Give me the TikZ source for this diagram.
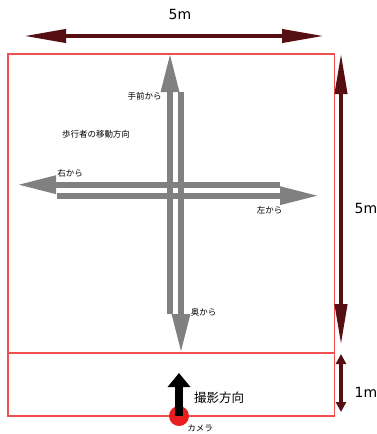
\documentclass[tikz,border=0pt]{standalone}
\usepackage{fontspec}
\setmainfont{DejaVu Sans}
\newfontfamily\jp{Noto Sans CJK JP}
\usetikzlibrary{arrows.meta}
\definecolor{dimred}{RGB}{85,14,18}
\definecolor{boxred}{RGB}{240,80,80}
\definecolor{walkgray}{RGB}{128,128,128}
\definecolor{camred}{RGB}{232,30,30}
\tikzset{
  lbl/.style={inner sep=0pt, font=\jp\fontsize{8.5}{10}\selectfont},
  dimlbl/.style={inner sep=0pt, font=\fontsize{14}{16}\selectfont},
  walk/.style={draw=walkgray, line width=6pt, -{Triangle[length=39pt,width=17pt]}},
  dimarrow/.style={draw=dimred, line width=4pt},
}
\begin{document}
\begin{tikzpicture}[x=1pt,y=-1pt]
\useasboundingbox (0,0) rectangle (377,434);
% area frame
\draw[boxred, line width=1.1pt] (8,54) rectangle (334.5,416);
\draw[boxred, line width=1.1pt] (8,353) -- (334.5,353);

% walking arrows
\coordinate (upS) at (170,314);
\coordinate (upE) at (170,53);
\coordinate (dnS) at (181,92);
\coordinate (dnE) at (181,353);
\coordinate (lfS) at (280,184.7);
\coordinate (lfE) at (17,184.7);
\coordinate (rtS) at (57,195.7);
\coordinate (rtE) at (319,195.7);
\draw[walk] (upS) -- (upE);
\draw[walk] (dnS) -- (dnE);
\draw[walk] (lfS) -- (lfE);
\draw[walk] (rtS) -- (rtE);

% dimension arrows
\coordinate (hA) at (24,36);
\coordinate (hB) at (324,36);
\draw[dimarrow, {Triangle[length=42pt,width=13pt]}-{Triangle[length=42pt,width=13pt]}] (hA) -- (hB);
\coordinate (vA) at (341,53);
\coordinate (vB) at (341,345);
\draw[dimarrow, {Triangle[length=41pt,width=12pt]}-{Triangle[length=41pt,width=12pt]}] (vA) -- (vB);
\coordinate (wA) at (341,354);
\coordinate (wB) at (341,412);
\draw[dimarrow, {Triangle[length=10pt,width=10pt]}-{Triangle[length=10pt,width=10pt]}] (wA) -- (wB);

% camera
\node[circle, fill=camred, minimum size=20pt, inner sep=0pt] (cam) at (179,416) {};
\coordinate (shootE) at (179,373);
\draw[black, line width=8pt, -{Triangle[length=14pt,width=22pt]}] (cam.center) -- (shootE);

% labels
\node[dimlbl] (top5m) at (180,14) {5m};
\node[dimlbl] (right5m) at (366,208) {5m};
\node[dimlbl] (right1m) at (366,392) {1m};
\node[lbl] (fromfront) at (144.5,96) {手前から};
\node[lbl] (title) at (96,134) {歩行者の移動方向};
\node[lbl] (fromright) at (70,173) {右から};
\node[lbl] (fromleft) at (269.5,210) {左から};
\node[lbl] (fromback) at (203.5,312) {奥から};
\node[lbl, font=\jp\fontsize{12.5}{14}\selectfont] (shoot) at (219,398) {撮影方向};
\node[lbl] (camlbl) at (200,428) {カメラ};
\end{tikzpicture}
\end{document}
